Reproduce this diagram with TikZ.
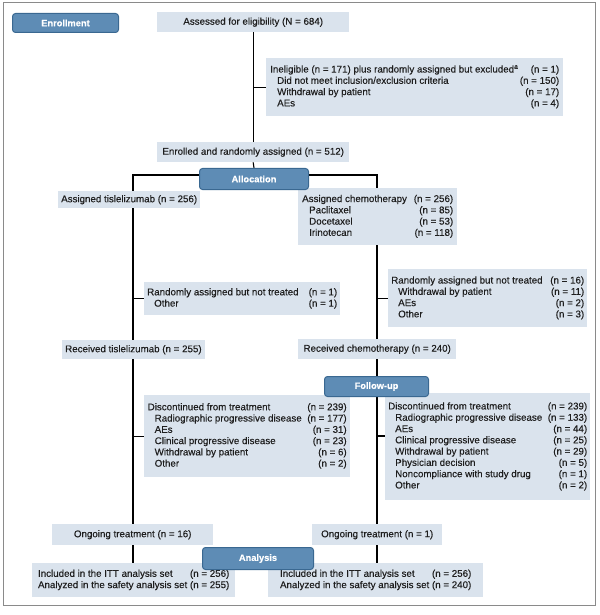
\documentclass[tikz,border=0pt]{standalone}
\usepackage{fontspec}
\setmainfont{Liberation Sans}[FakeBold=0.3]
\usetikzlibrary{calc}
\definecolor{boxfill}{HTML}{DAE3ED}
\definecolor{hdrfill}{HTML}{5E8CB5}
\definecolor{hdrdraw}{HTML}{3A6891}
\definecolor{framecol}{HTML}{8A8A8A}
\definecolor{txt}{HTML}{1E1E1E}
\pgfdeclarelayer{background}
\pgfsetlayers{background,main}
\newcommand\ind{\hspace*{7bp}}
\newcommand\ftab[2]{\begin{tabular*}{#1}{@{}l@{\extracolsep{\fill}}r@{}}#2\end{tabular*}}
\newcommand\ntab[1]{\begin{tabular}{@{}l@{\ }r@{}}#1\end{tabular}}
\tikzset{
 box/.style={fill=boxfill, anchor=north west, inner xsep=3bp, inner ysep=0bp, text=txt, font=\fontsize{9.8}{11.33}\selectfont, align=center},
 hdr/.style={fill=hdrfill, draw=hdrdraw, line width=1bp, rounded corners=3bp, anchor=north west, inner sep=0pt, text=white, font=\fontsize{9.3}{11}\selectfont\bfseries},
 link/.style={draw=black, line width=1.1bp},
 wh/.style 2 args={minimum width=#1, minimum height=#2},
}
\begin{document}
\begin{tikzpicture}[x=1bp,y=-1bp]
\useasboundingbox (0,0) rectangle (600,615);
\draw[framecol, line width=1bp] (3,3) rectangle (595,605);
% boxes
\node[box, wh={192bp}{20bp}] (assess) at (157,12) {Assessed for eligibility (N = 684)};
\node[box, wh={297bp}{58bp}] (inelig) at (266,58) {\ftab{289bp}{Ineligible (n = 171) plus randomly assigned but excluded\textsuperscript{a} & (n = 1)\\
\ind Did not meet inclusion/exclusion criteria & (n = 150)\\
\ind Withdrawal by patient & (n = 17)\\
\ind AEs & (n = 4)}};
\node[box, wh={192bp}{20bp}] (enrolled) at (157,142) {Enrolled and randomly assigned (n = 512)};
\node[box, wh={141bp}{17bp}] (assignT) at (58,191) {Assigned tislelizumab (n = 256)};
\node[box, wh={159bp}{57bp}] (assignC) at (298,188) {\ftab{151bp}{Assigned chemotherapy & (n = 256)\\
\ind Paclitaxel & (n = 85)\\
\ind Docetaxel & (n = 53)\\
\ind Irinotecan & (n = 118)}};
\node[box, wh={194bp}{33bp}] (rantL) at (144,282) {\ftab{190bp}{Randomly assigned but not treated & (n = 1)\\
\ind Other & (n = 1)}};
\node[box, wh={199bp}{58bp}] (rantR) at (388,269) {\ftab{193bp}{Randomly assigned but not treated & (n = 16)\\
\ind Withdrawal by patient & (n = 11)\\
\ind AEs & (n = 2)\\
\ind Other & (n = 3)}};
\node[box, wh={142bp}{19bp}] (recT) at (62,340) {Received tislelizumab (n = 255)};
\node[box, wh={158bp}{20bp}] (recC) at (298,339) {Received chemotherapy (n = 240)};
\node[box, wh={206bp}{82bp}] (discL) at (144,395) {\ftab{199bp}{Discontinued from treatment & (n = 239)\\
\ind Radiographic progressive disease & (n = 177)\\
\ind AEs & (n = 31)\\
\ind Clinical progressive disease & (n = 23)\\
\ind Withdrawal by patient & (n = 6)\\
\ind Other & (n = 2)}};
\node[box, wh={205bp}{107bp}] (discR) at (385,393) {\ftab{199bp}{Discontinued from treatment & (n = 239)\\
\ind Radiographic progressive disease & (n = 133)\\
\ind AEs & (n = 44)\\
\ind Clinical progressive disease & (n = 25)\\
\ind Withdrawal by patient & (n = 29)\\
\ind Physician decision & (n = 5)\\
\ind Noncompliance with study drug & (n = 1)\\
\ind Other & (n = 2)}};
\node[box, wh={161bp}{21bp}] (ongL) at (52,524) {Ongoing treatment (n = 16)};
\node[box, wh={130bp}{21bp}] (ongR) at (312,524) {Ongoing treatment (n = 1)};
\node[box, wh={203bp}{34bp}] (inclL) at (32,563) {\ntab{Included in the ITT analysis set & (n = 256)\\
Analyzed in the safety analysis set & (n = 255)}};
\node[box, wh={215bp}{34bp}] (inclR) at (268,563) {\ntab{Included in the ITT analysis set & (n = 256)\\
Analyzed in the safety analysis set & (n = 240)}};
% headers
\node[hdr, wh={106bp}{19bp}] (enroll) at (12,13) {Enrollment};
\node[hdr, wh={109bp}{21bp}] (alloc) at (199,168) {Allocation};
\node[hdr, wh={104bp}{20bp}] (follow) at (324,376) {Follow-up};
\node[hdr, wh={111bp}{22bp}] (analysis) at (202,547) {Analysis};
% column coordinates
\coordinate (colL) at (133,0);
\coordinate (colR) at (377,0);
\coordinate (split) at (253,175);
\coordinate (fubr) at (0,436);
\begin{pgfonlayer}{background}
\draw[link] (assess.south) -- (enrolled.north);
\draw[link] (assess.south |- inelig.west) -- (inelig.west);
\draw[link] (enrolled.south) -- (alloc.north);
\draw[link] (assignT.north -| colL) |- (split) -| (assignC.north -| colR);
\draw[link] (assignT.south -| colL) -- (recT.north -| colL);
\draw[link] (colL |- rantL.west) -- (rantL.west);
\draw[link] (recT.south -| colL) -- (ongL.north -| colL);
\draw[link] (colL |- discL.west) -- (discL.west);
\draw[link] (ongL.south -| colL) -- (inclL.north -| colL);
\draw[link] (assignC.south -| colR) -- (recC.north -| colR);
\draw[link] (colR |- rantR.west) -- (rantR.west);
\draw[link] (recC.south -| colR) -- (ongR.north -| colR);
\draw[link] (colR |- fubr) -- (discR.west |- fubr);
\draw[link] (ongR.south -| colR) -- (inclR.north -| colR);
\end{pgfonlayer}
\end{tikzpicture}
\end{document}
